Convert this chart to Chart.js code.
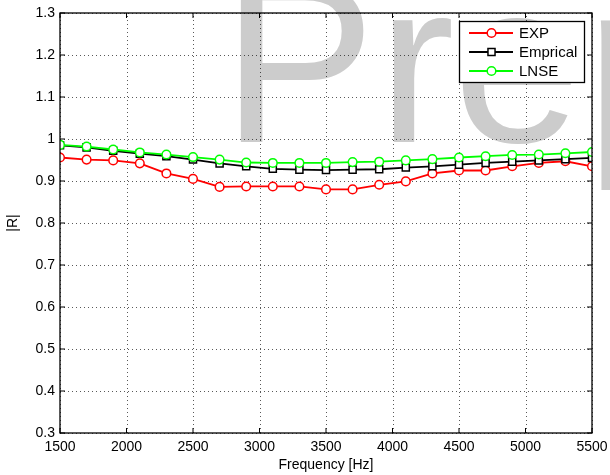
<!DOCTYPE html>
<html>
<head>
<meta charset="utf-8">
<script src="https://cdn.jsdelivr.net/npm/chart.js@4/dist/chart.umd.min.js"></script>
<style>
html,body{margin:0;padding:0;background:#fff;}
#wrap{position:relative;width:610px;height:475px;}
</style>
</head>
<body>
<div id="wrap"><canvas id="c" width="610" height="475"></canvas></div>
<script>
const frequencies = [1500,1700,1900,2100,2300,2500,2700,2900,3100,3300,3500,3700,3900,4100,4300,4500,4700,4900,5100,5300,5500];
const expValues = [0.956,0.951,0.949,0.942,0.918,0.905,0.886,0.887,0.887,0.887,0.880,0.880,0.891,0.899,0.918,0.925,0.925,0.935,0.943,0.947,0.935];
const empiricalValues = [0.985,0.980,0.972,0.965,0.959,0.951,0.942,0.935,0.929,0.927,0.926,0.927,0.928,0.932,0.935,0.939,0.943,0.946,0.949,0.952,0.955];
const lnseValues = [0.986,0.982,0.975,0.968,0.963,0.957,0.951,0.944,0.943,0.943,0.943,0.945,0.946,0.949,0.952,0.956,0.959,0.962,0.963,0.966,0.969];
const seriesLabels = ['EXP','Emprical','LNSE'];
const xTicks = [1500,2000,2500,3000,3500,4000,4500,5000,5500];
const yTicks = [0.3,0.4,0.5,0.6,0.7,0.8,0.9,1.0,1.1,1.2,1.3];
const watermarkLetters = ['P','r','e','p'];

const FONT = '"Liberation Sans", Arial, Helvetica, sans-serif';
const toPts = vals => frequencies.map((f,i)=>({x:f,y:vals[i]}));

const styles = [
  {color:'#ff0000', style:'circle', radius:4.3},
  {color:'#000000', style:'rect', radius:5},
  {color:'#00ff00', style:'circle', radius:4.3}
];

const watermark = {
  id:'watermark',
  beforeDraw(chart){
    const ctx = chart.ctx;
    ctx.save();
    ctx.fillStyle = '#cccccc';
    ctx.font = '230px ' + FONT;
    ctx.textBaseline = 'alphabetic';
    ctx.textAlign = 'left';
    const inkLeft = [240, 393, 462, 600];
    watermarkLetters.forEach((ch,i)=>{
      const m = ctx.measureText(ch);
      const bl = m.actualBoundingBoxLeft || 0;
      ctx.fillText(ch, inkLeft[i] + bl, 142);
    });
    ctx.restore();
  },
  beforeDatasetsDraw(chart){
    const {ctx, chartArea:a, scales} = chart;
    ctx.save();
    ctx.strokeStyle = 'rgba(0,0,0,0.65)';
    ctx.lineWidth = 1;
    ctx.setLineDash([1,3]);
    ctx.beginPath();
    xTicks.forEach(v=>{
      const px = Math.round(scales.x.getPixelForValue(v)) + 0.5;
      ctx.moveTo(px, a.bottom); ctx.lineTo(px, a.top);
    });
    yTicks.forEach(v=>{
      const py = Math.round(scales.y.getPixelForValue(v)) + 0.5;
      ctx.moveTo(a.left, py); ctx.lineTo(a.right, py);
    });
    ctx.stroke();
    ctx.restore();
  }
};

const frame = {
  id:'frame',
  afterDatasetsDraw(chart){
    const {ctx, chartArea:a, scales} = chart;
    ctx.save();
    ctx.strokeStyle = '#000';
    ctx.lineWidth = 1.3;
    ctx.strokeRect(a.left, a.top, a.right-a.left, a.bottom-a.top);
    const tl = 5;
    ctx.beginPath();
    xTicks.forEach(v=>{
      const px = scales.x.getPixelForValue(v);
      ctx.moveTo(px, a.bottom); ctx.lineTo(px, a.bottom-tl);
      ctx.moveTo(px, a.top); ctx.lineTo(px, a.top+tl);
    });
    yTicks.forEach(v=>{
      const py = scales.y.getPixelForValue(v);
      ctx.moveTo(a.left, py); ctx.lineTo(a.left+tl, py);
      ctx.moveTo(a.right, py); ctx.lineTo(a.right-tl, py);
    });
    ctx.lineWidth = 1;
    ctx.stroke();
    ctx.restore();
  },
  afterDraw(chart){
    const ctx = chart.ctx;
    ctx.save();
    const bx=459.5, by=21.5, bw=125, bh=61;
    ctx.fillStyle='#fff';
    ctx.fillRect(bx,by,bw,bh);
    ctx.strokeStyle='#000';
    ctx.lineWidth=1.3;
    ctx.strokeRect(bx,by,bw,bh);
    const rows=[33,52,71];
    seriesLabels.forEach((lab,i)=>{
      const s=styles[i], y=rows[i];
      ctx.strokeStyle=s.color;
      ctx.lineWidth=1.8;
      ctx.beginPath(); ctx.moveTo(469,y); ctx.lineTo(513,y); ctx.stroke();
      ctx.lineWidth=1.5;
      ctx.fillStyle='#fff';
      ctx.beginPath();
      if(s.style==='circle'){ ctx.arc(491.5,y,s.radius,0,Math.PI*2); }
      else { const h=s.radius*Math.SQRT1_2; ctx.rect(491.5-h,y-h,2*h,2*h); }
      ctx.fill(); ctx.stroke();
      ctx.fillStyle='#000';
      ctx.font='15px '+FONT;
      ctx.textBaseline='middle';
      ctx.textAlign='left';
      ctx.fillText(lab,519,y+0.5);
    });
    ctx.restore();
  }
};

const mk = (vals,i,order) => ({
  label: seriesLabels[i],
  data: toPts(vals),
  borderColor: styles[i].color,
  backgroundColor: styles[i].color,
  borderWidth: 1.8,
  pointStyle: styles[i].style,
  pointRadius: styles[i].radius,
  pointBorderWidth: 1.5,
  pointBorderColor: styles[i].color,
  pointBackgroundColor: '#ffffff',
  tension: 0,
  order: order
});

new Chart(document.getElementById('c'), {
  type:'line',
  data:{datasets:[
    mk(expValues,0,3),
    mk(empiricalValues,1,2),
    mk(lnseValues,2,1)
  ]},
  options:{
    responsive:false,
    animation:false,
    devicePixelRatio:1,
    layout:{padding:{left:0,right:18,top:13,bottom:0}},
    plugins:{legend:{display:false},tooltip:{enabled:false}},
    scales:{
      x:{
        type:'linear', min:1500, max:5500,
        afterBuildTicks(s){ s.ticks = xTicks.map(v=>({value:v})); },
        afterFit(s){ s.height = 42; s.paddingLeft = 0; s.paddingRight = 0; },
        ticks:{color:'#000', padding:6, maxRotation:0, autoSkip:false, font:{family:FONT,size:14},
          callback:(v)=> String(Math.round(v))},
        grid:{display:false, drawTicks:false},
        border:{display:false},
        title:{display:true, text:'Frequency [Hz]', color:'#000', font:{family:FONT,size:14}, padding:{top:0,bottom:1}}
      },
      y:{
        type:'linear', min:0.3, max:1.3,
        afterBuildTicks(s){ s.ticks = yTicks.map(v=>({value:v})); },
        afterFit(s){ s.width = 60; s.paddingTop = 0; s.paddingBottom = 0; },
        ticks:{color:'#000', padding:5, autoSkip:false, font:{family:FONT,size:14},
          callback:(v)=> String(Math.round(v*10)/10)},
        grid:{display:false, drawTicks:false},
        border:{display:false},
        title:{display:true, text:'|R|', color:'#000', font:{family:FONT,size:14}, padding:{top:5,bottom:0}}
      }
    }
  },
  plugins:[watermark, frame]
});
</script>
</body>
</html>
